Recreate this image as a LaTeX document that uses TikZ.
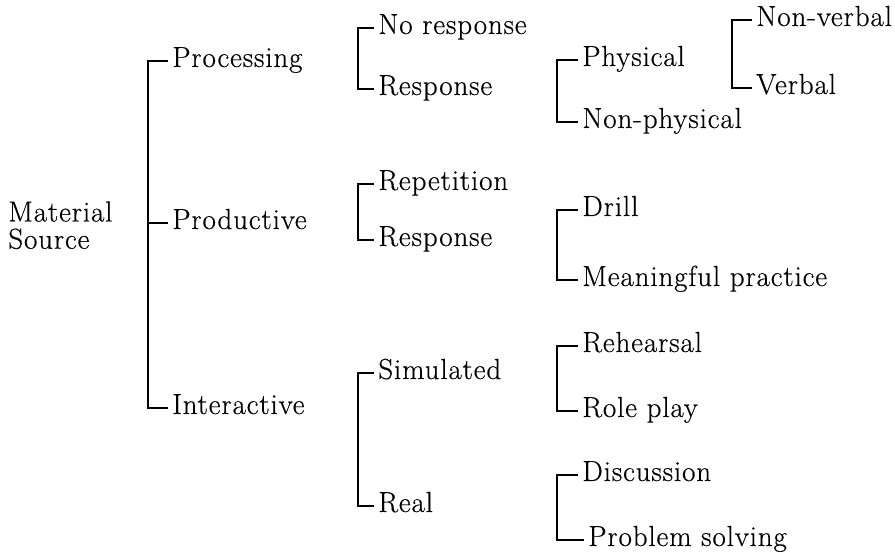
\documentclass[tikz,border=0pt]{standalone}
\usepackage{fontspec}
\setmainfont{Latin Modern Roman}[LetterSpace=3,FakeBold=0.4]
\usepackage{tikz}
\usetikzlibrary{positioning}
\tikzset{
	item/.style={anchor=west,inner xsep=0.08cm,inner ysep=0pt,text height=.68em,text depth=0pt,font=\fontsize{16.5}{16.5}\selectfont},
	brack/.style={line width=1.1pt}
}

\begin{document}
\begin{tikzpicture}
			\useasboundingbox (0,0) rectangle (17.9,-11.02);
			\node[anchor=north west,inner sep=0pt,align=left,font=\fontsize{16.5}{15.5}\selectfont] (mat) at (0.16,-4.02) {Material\\Source};
			
			\node[item] (proc) at (3.36,-1.22) {Processing};
			\node[item] (prod) at (3.36,-4.46) {Productive};
			\node[item] (inter) at (3.36,-8.16) {Interactive};
			
			\node[item] (nores) at (7.48,-0.56) {No response};
			\node[item] (resp) at (7.48,-1.78) {Response};
			\node[item] (rep) at (7.48,-3.68) {Repetition};
			\node[item] (presp) at (7.48,-4.80) {Response};
			\node[item] (sim) at (7.48,-7.46) {Simulated};
			\node[item] (real) at (7.48,-10.12) {Real};
			
			\node[item] (phys) at (11.56,-1.20) {Physical};
			\node[item] (nphys) at (11.56,-2.44) {Non-physical};
			\node[item] (drill) at (11.56,-4.20) {Drill};
			\node[item] (mprac) at (11.56,-5.60) {Meaningful practice};
			\node[item] (reh) at (11.56,-6.92) {Rehearsal};
			\node[item] (role) at (11.56,-8.22) {Role play};
			\node[item] (disc) at (11.56,-9.50) {Discussion};
			\node[item] (prob) at (11.68,-10.80) {Problem solving};
			
			\node[item] (nverb) at (15.04,-0.40) {Non-verbal};
			\node[item] (verb) at (15.04,-1.76) {Verbal};
			
			\draw[brack] (proc.west) -- ++(-0.40,0) |- (inter.west);
			\draw[brack] (prod.west) -- ++(-0.40,0);
			\draw[brack] (nores.west) -- ++(-0.32,0) |- (resp.west);
			\draw[brack] (rep.west) -- ++(-0.32,0) |- (presp.west);
			\draw[brack] (sim.west) -- ++(-0.32,0) |- (real.west);
			\draw[brack] (phys.west) -- ++(-0.42,0) |- (nphys.west);
			\draw[brack] (drill.west) -- ++(-0.42,0) |- (mprac.west);
			\draw[brack] (reh.west) -- ++(-0.42,0) |- (role.west);
			\draw[brack] (disc.west) -- ++(-0.42,0) |- (prob.west);
			\draw[brack] (nverb.west) -- ++(-0.40,0) |- (verb.west);
		\end{tikzpicture}
\end{document}
